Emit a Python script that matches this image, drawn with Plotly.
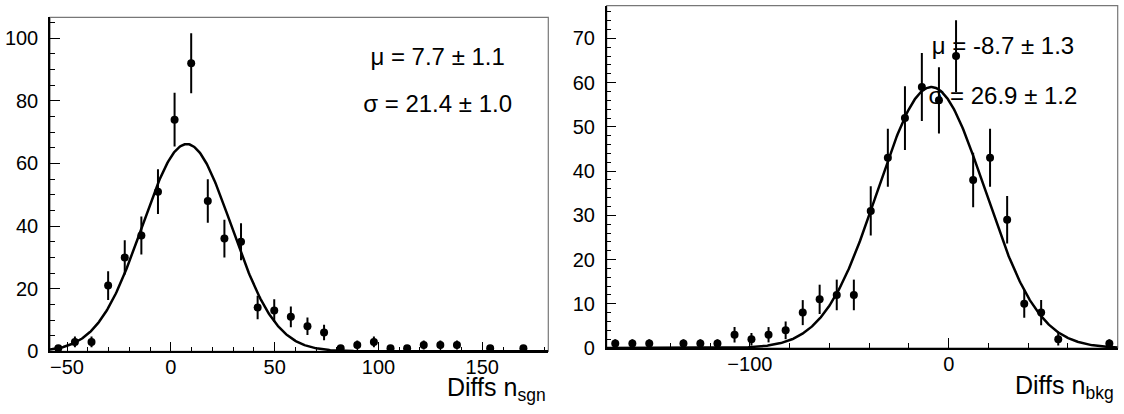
import numpy as np
import plotly.graph_objects as go

# ---------------- data ----------------
sgn_centers = [-54.2, -46.2, -38.2, -30.2, -22.2, -14.2, -6.2, 1.8, 9.8, 17.8,
               25.8, 33.8, 41.8, 49.8, 57.8, 65.8, 73.8, 81.8, 89.8, 97.8,
               105.8, 113.8, 121.8, 129.8, 137.8, 145.8, 153.8, 161.8, 169.8, 177.8]
sgn_counts = [1, 3, 3, 21, 30, 37, 51, 74, 92, 48,
              36, 35, 14, 13, 11, 8, 6, 1, 2, 3,
              1, 1, 2, 2, 2, 0, 1, 0, 1, 0]
sgn_mu, sgn_sigma, sgn_amp = 7.7, 21.4, 66.2
sgn_labels = ["\u03bc = 7.7 \u00b1 1.1", "\u03c3 = 21.4 \u00b1 1.0"]

bkg_centers = [-167.7, -159.1, -150.6, -142.0, -133.4, -124.9, -116.3, -107.7, -99.2, -90.6,
               -82.0, -73.4, -64.9, -56.3, -47.7, -39.2, -30.6, -22.0, -13.5, -4.9,
               3.7, 12.3, 20.8, 29.4, 38.0, 46.5, 55.1, 63.7, 72.2, 80.8]
bkg_counts = [1, 1, 1, 0, 1, 1, 1, 3, 2, 3,
              4, 8, 11, 12, 12, 31, 43, 52, 59, 56,
              66, 38, 43, 29, 10, 8, 2, 0, 0, 1]
bkg_mu, bkg_sigma, bkg_amp = -8.7, 26.9, 59.0
bkg_labels = ["\u03bc = -8.7 \u00b1 1.3", "\u03c3 = 26.9 \u00b1 1.2"]

FONT = "Liberation Sans"
TICK_SIZE = 20
W, H = 1124, 414

fig = go.Figure()


def add_panel(centers, counts, mu, sigma, amp, labels, label_xy, xrange, xa, ya):
    # stat text (drawn first so data sits on top of it)
    fig.add_trace(go.Scatter(
        x=[label_xy[0], label_xy[0]], y=[label_xy[1], label_xy[2]],
        mode="text", text=labels, textposition="middle center",
        textfont=dict(family=FONT, size=24, color="black"),
        hoverinfo="skip", showlegend=False, xaxis=xa, yaxis=ya))
    # fit curve
    xf = np.linspace(xrange[0], xrange[1], 600)
    yf = amp * np.exp(-0.5 * ((xf - mu) / sigma) ** 2)
    fig.add_trace(go.Scatter(
        x=xf, y=yf, mode="lines", line=dict(color="black", width=2.5),
        hoverinfo="skip", showlegend=False, xaxis=xa, yaxis=ya))
    # data points (non-empty bins only)
    xs = [c for c, n in zip(centers, counts) if n > 0]
    ys = [n for n in counts if n > 0]
    fig.add_trace(go.Scatter(
        x=xs, y=ys, mode="markers",
        marker=dict(color="black", size=8),
        error_y=dict(type="data", array=np.sqrt(ys), color="black",
                     thickness=2, width=0),
        showlegend=False, xaxis=xa, yaxis=ya))


add_panel(sgn_centers, sgn_counts, sgn_mu, sgn_sigma, sgn_amp, sgn_labels,
          (128.5, 93.4, 78.4), (-58.2, 181.8), "x", "y")
add_panel(bkg_centers, bkg_counts, bkg_mu, bkg_sigma, bkg_amp, bkg_labels,
          (27.3, 67.9, 56.5), (-172.0, 85.0), "x2", "y2")


def axis_cfg(domain, rng, dtick, mdtick, anchor, standoff):
    return dict(domain=domain, range=list(rng), anchor=anchor,
                showgrid=False, zeroline=False, showline=True,
                linecolor="black", linewidth=1.5,
                ticks="inside", ticklen=10, tickwidth=1, tickcolor="black",
                tick0=0, dtick=dtick,
                tickfont=dict(family=FONT, size=TICK_SIZE, color="black"),
                ticklabelstandoff=standoff, automargin=False,
                minor=dict(ticks="inside", ticklen=5, tickwidth=1,
                           tickcolor="black", tick0=0, dtick=mdtick))


left_xd = [50 / W, 548.3 / W]
left_yd = [1 - 351.3 / H, 1 - 17.3 / H]
right_xd = [606.7 / W, 1117.7 / W]
right_yd = [1 - 348 / H, 1 - 5.7 / H]

fig.update_layout(
    width=W, height=H,
    margin=dict(l=0, r=0, t=0, b=0, autoexpand=False),
    paper_bgcolor="white", plot_bgcolor="white",
    font=dict(family=FONT, size=TICK_SIZE, color="black"),
    showlegend=False,
    xaxis=axis_cfg(left_xd, (-58.2, 181.8), 50, 10, "y", -3),
    yaxis=axis_cfg(left_yd, (0, 106.7), 20, 5, "x", 6),
    xaxis2=axis_cfg(right_xd, (-172.0, 85.0), 100, 20, "y2", -3),
    yaxis2=axis_cfg(right_yd, (0, 77.4), 10, 2, "x2", 6),
    shapes=[
        dict(type="rect", xref="x domain", yref="y domain", x0=0, x1=1, y0=0, y1=1,
             line=dict(color="#777777", width=1.2), layer="below"),
        dict(type="rect", xref="x2 domain", yref="y2 domain", x0=0, x1=1, y0=0, y1=1,
             line=dict(color="#777777", width=1.2), layer="below"),
    ],
    annotations=[
        dict(text="Diffs n<sub>sgn</sub>", xref="paper", yref="paper",
             x=548 / W, y=1 - 371 / H, xanchor="right", yanchor="top",
             showarrow=False, font=dict(family=FONT, size=25, color="black")),
        dict(text="Diffs n<sub>bkg</sub>", xref="paper", yref="paper",
             x=1116 / W, y=1 - 369 / H, xanchor="right", yanchor="top",
             showarrow=False, font=dict(family=FONT, size=25, color="black")),
    ],
)

# remove the browser's default 8px page margin so the figure sits at (0, 0)
fig.write_html(
    "out.html",
    config={"displayModeBar": False},
    post_script="document.body.style.margin='0';document.body.style.padding='0';"
                "document.body.style.overflow='hidden';",
)
